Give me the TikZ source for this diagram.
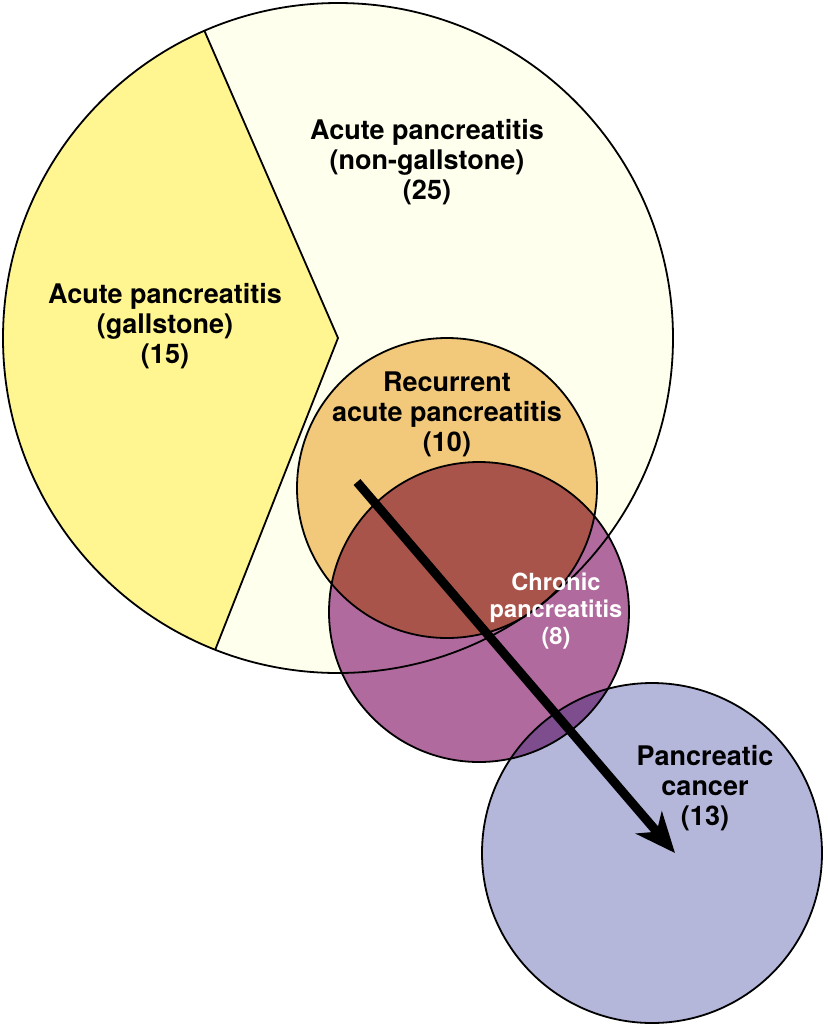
\documentclass[tikz,border=0pt]{standalone}
\usepackage{fontspec}
\setmainfont{TeX Gyre Heros}
\usepackage{xcolor}
\usetikzlibrary{arrows.meta}
\definecolor{ink}{RGB}{0,0,0}
\definecolor{cream}{RGB}{255,255,238}
\definecolor{gallyellow}{RGB}{255,245,145}
\definecolor{recorange}{RGB}{242,200,122}
\definecolor{overlapred}{RGB}{168,84,74}
\definecolor{chronpurple}{RGB}{176,106,158}
\definecolor{cancerblue}{RGB}{180,182,218}
\definecolor{overlapviolet}{RGB}{125,77,142}
\newcommand{\Rbig}{335}
\newcommand{\Rrec}{150}
\newcommand{\Rchr}{150}
\newcommand{\Rcan}{170}

\begin{document}
\begin{tikzpicture}[
  x=0.5pt, y=-0.5pt,
  outline/.style={draw=ink, line width=0.9pt},
  lbl/.style={align=center, inner sep=0pt,
              font=\fontsize{13.5}{15}\selectfont\bfseries},
  slbl/.style={lbl, text=white,
               font=\fontsize{11.8}{13.5}\selectfont\bfseries},
  arr/.style={-{Stealth[length=20pt, width=17pt, inset=6pt]},
              line width=4.5pt, draw=ink}
]
\useasboundingbox (0,0) rectangle (827,1030);
\fill[white] (0,0) rectangle (827,1030);

\coordinate (acute) at (338,338);
\coordinate (recur) at (447,488);
\coordinate (chron) at (479,612);
\coordinate (cancer) at (652,853);

% fills
\fill[cream] (acute) circle (\Rbig);
\fill[gallyellow] (acute) -- ++(111.5:\Rbig) arc (111.5:246.5:\Rbig) -- cycle;
\fill[recorange] (recur) circle (\Rrec);
\fill[chronpurple] (chron) circle (\Rchr);
\begin{scope}
  \clip (recur) circle (\Rrec);
  \fill[overlapred] (chron) circle (\Rchr);
\end{scope}
\fill[cancerblue] (cancer) circle (\Rcan);
\begin{scope}
  \clip (chron) circle (\Rchr);
  \fill[overlapviolet] (cancer) circle (\Rcan);
\end{scope}

% outlines
\draw[outline] (acute) circle (\Rbig);
\draw[outline] (acute) ++(246.5:\Rbig) -- (acute) -- ++(111.5:\Rbig);
\draw[outline] (recur) circle (\Rrec);
\draw[outline] (chron) circle (\Rchr);
\draw[outline] (cancer) circle (\Rcan);

% labels
\node[lbl] (gallTxt) at (165,326) {Acute pancreatitis\\(gallstone)\\(15)};
\node[lbl] (nonGallTxt) at (427,162) {Acute pancreatitis\\(non-gallstone)\\(25)};
\node[lbl] (recurTxt) at (447,414) {Recurrent\\acute pancreatitis\\(10)};
\node[slbl] (chronTxt) at (556,611) {Chronic\\pancreatitis\\(8)};
\node[lbl] (cancerTxt) at (705,788) {Pancreatic\\cancer\\(13)};

\coordinate (arrStart) at (357,482);
\coordinate (arrEnd) at (675,853);
\draw[arr] (arrStart) -- (arrEnd);

\end{tikzpicture}
\end{document}
